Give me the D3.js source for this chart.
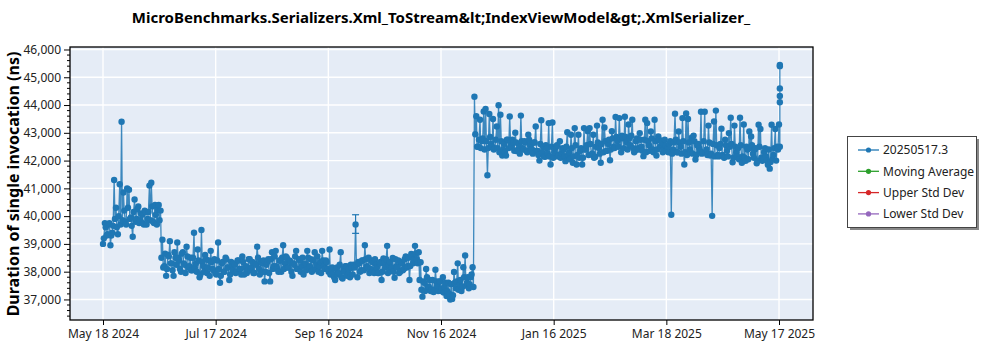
<!DOCTYPE html>
<html><head><meta charset="utf-8">
<script src="https://cdn.jsdelivr.net/npm/d3@7"></script>
<style>
html,body{margin:0;padding:0;background:#fff;}
svg{display:block;font-family:"Segoe UI","Noto Sans","Open Sans",sans-serif;}
</style></head>
<body>
<svg id="chart" width="1000" height="350"></svg>
<script>
// ---------- DATA ----------
const chartTitle = "MicroBenchmarks.Serializers.Xml_ToStream&lt;IndexViewModel&gt;.XmlSerializer_";
const yAxisTitle = "Duration of single invocation (ns)";
const startDate = "2024-05-18";           // first day; two runs per day afterwards
// first run of each day (ns)
const values = [
  39000,39750,39300,39700,38950,39400,41300,40300,39350,41150,
  43400,40850,39800,41000,40950,39950,39260,40600,39900,40350,
  39850,40050,39700,40150,39900,41100,41200,39800,40400,39700,
  40400,40200,39150,38200,37850,38600,39100,38300,37850,38500,
  39050,38400,38000,38700,38250,38900,38150,38500,38050,39400,
  38300,38800,37800,39500,38200,38600,37950,38400,38750,38100,
  38450,37900,39050,37600,38300,38000,38500,38150,37700,38350,
  38050,38250,38000,38400,38100,38550,37900,38200,38050,38450,
  38150,37950,38300,38900,38100,38350,38000,37650,38250,38450,
  37650,38700,38200,38750,38100,38400,38000,38950,38300,38500,
  38150,38350,37850,38250,38750,38100,38400,38200,37900,38300,
  38750,38150,38450,38050,38700,38250,38000,38350,38750,38200,
  38400,38100,38800,38050,37900,37700,38150,37950,38700,37750,
  38000,38200,37900,37800,38150,38250,39700,37800,38300,38050,
  38400,38950,38200,38500,38100,38350,37950,38250,37950,38300,
  37700,38480,38150,38930,38250,38050,38490,37780,38200,38400,
  38000,38300,38100,38550,38200,37700,38640,38300,38930,38450,
  38700,38340,37100,37600,38100,37450,37700,37350,37270,38070,
  37500,37650,37300,37800,37450,37120,37600,37000,37020,37990,
  37400,38300,37550,37300,38160,38580,37600,37400,37800,38160,
  44300,43600,42500,43470,42700,43770,43860,41470,43680,42600,
  43500,42450,43230,43990,43650,42180,42600,42180,42750,43590,
  42500,42650,43000,42340,42600,43620,42450,42700,42350,42930,
  42550,42400,42650,43230,42350,42000,43450,42500,42140,42450,
  43350,41860,43370,42300,42500,42150,42700,42250,42400,41980,
  43020,42300,42930,41920,43170,41860,42930,42350,41860,43170,
  42400,43060,43170,42220,42930,42140,43260,42450,41920,43470,
  43190,42350,42600,42010,43060,42500,43570,42700,43530,42300,
  42800,43580,42650,43300,42550,43470,42300,42700,42450,42990,
  42500,42160,43470,43350,42550,43050,42400,43470,42180,42870,
  42500,42650,42400,42550,42450,42600,40050,42400,43690,42300,
  43050,42500,43530,41860,43700,43500,42400,42820,42900,42040,
  42550,42450,43760,42280,43760,42400,43260,42180,40010,43410,
  43800,42200,42450,43150,42160,42750,42350,42990,43540,41940,
  43260,42300,42450,43540,41920,43300,41990,42400,43050,42870,
  42250,42400,41900,43290,43140,41990,42300,42150,41850,41710,
  43290,42200,43140,42500,43300
];
// second run of each day (ns)
const secondRuns = [
  39200,39600,39350,39750,39300,39650,39900,39600,40000,39700,
  39850,40200,39700,40300,39900,39650,40150,39800,40250,39750,
  40100,39750,40200,39700,40150,39850,40350,39750,40050,40250,
  39850,38500,38150,38650,38100,38550,38300,38050,38700,38250,
  38500,38100,38650,38300,37950,38550,38200,38050,38500,38150,
  38000,38400,37900,38350,38000,38450,38150,37850,38350,38050,
  37950,38400,38100,37850,38350,38000,38450,38150,37900,38250,
  38300,37950,38400,38100,37900,38350,38150,37950,38450,38050,
  38350,37950,38250,38500,37900,38300,38400,38000,38350,37950,
  38450,38100,38550,38200,38000,38400,38500,38100,38550,38150,
  38400,38000,38300,38550,38100,38450,38000,38500,38250,38050,
  38500,38200,38000,38400,38100,38550,38200,37950,38400,38100,
  38350,38000,37900,38150,37800,38100,37900,38250,37800,38100,
  38200,37850,38100,38250,37900,38150,38250,38350,38000,38400,
  38050,38450,38150,37950,38400,38050,38450,38150,37950,38350,
  38000,38300,38450,37950,38350,38150,38000,38450,38150,37950,
  38350,38050,38450,38150,38500,38200,38550,38450,38650,38300,
  37700,37350,37650,37300,37800,37450,37300,37700,37350,37650,
  37300,37650,37400,37250,37600,37300,37200,37550,37150,37600,
  37650,37350,37700,37450,37800,37500,37800,37550,37900,37450,
  42950,42500,42750,42450,42800,42400,42700,42450,42850,42500,
  42400,42750,42450,42300,42700,42400,42300,42750,42450,42650,
  42750,42350,42650,42400,42250,42700,42400,42650,42300,42750,
  42400,42250,42650,42350,42200,42600,42300,42150,42550,42250,
  42150,42500,42100,42450,42550,42200,42100,42450,42150,42500,
  42200,42050,42450,42150,42550,42200,42100,42450,42100,42400,
  42550,42200,42600,42250,42100,42500,42650,42250,42600,42300,
  42700,42350,42750,42400,42800,42450,42850,42500,42800,42900,
  42450,42850,42400,42800,42900,42450,42350,42800,42400,42750,
  42350,42750,42300,42700,42350,42800,42300,42700,42400,42750,
  42700,42300,42750,42350,42300,42700,42250,42650,42750,42300,
  42650,42250,42700,42300,42200,42650,42300,42250,42700,42200,
  42600,42350,42250,42700,42300,42200,42650,42250,42600,42150,
  42550,42150,42600,42200,42100,42550,42150,42500,42600,42100,
  42500,42150,42050,42550,42150,42100,42500,42050,42450,42550,
  42100,42450,42000,42500,42100,42050,42450,42000,42400,41950,
  42050,42450,42000,42400,42500
];
const lastDayExtraRuns = [44100,44330,44600,45400,45440];   // repeated runs on the final day
const errorBars = [ {day:136, low:39380, high:40050} ];
const yTicks = [37000,38000,39000,40000,41000,42000,43000,44000,45000,46000];
const xTickLabels = ["May 18 2024","Jul 17 2024","Sep 16 2024","Nov 16 2024","Jan 16 2025","Mar 18 2025","May 17 2025"];
const legendLabels = ["20250517.3","Moving Average","Upper Std Dev","Lower Std Dev"];
const legendColors = ["#1f77b4","#2ca02c","#d62728","#9467bd"];

// ---------- BUILD ----------
const DAY = 86400000;
const t0 = Date.parse(startDate + "T00:00:00Z");
const points = [];
values.forEach((v,i)=>{
  points.push({t:new Date(t0+i*DAY), v});
  points.push({t:new Date(t0+i*DAY+0.45*DAY), v:secondRuns[i]});
});
const lastT = new Date(t0+(values.length-1)*DAY+0.45*DAY);
lastDayExtraRuns.forEach(v=>points.push({t:lastT, v}));

const svg = d3.select("#chart");
const L=70, R=813, T=47, B=320;
const firstTick = t0, lastTick = t0 + 364*DAY;
const x = d3.scaleUtc()
  .domain([new Date(firstTick - 17.77*DAY), new Date(lastTick + 18.3*DAY)])
  .range([L,R]);
const y = d3.scaleLinear().domain([36260,46090]).range([B,T]);

const blue = "#1f77b4";
svg.append("rect").attr("x",L).attr("y",T).attr("width",R-L).attr("height",B-T).attr("fill","#e5ecf6");

const xTickVals = xTickLabels.map((s,i)=>new Date(firstTick + i*(lastTick-firstTick)/(xTickLabels.length-1)));

// grid
const grid = svg.append("g");
grid.selectAll("line.h").data(yTicks).join("line")
  .attr("x1",L).attr("x2",R).attr("y1",d=>y(d)).attr("y2",d=>y(d))
  .attr("stroke","#fff").attr("stroke-width",1.4);
grid.selectAll("line.v").data(xTickVals).join("line")
  .attr("y1",T).attr("y2",B).attr("x1",d=>x(d)).attr("x2",d=>x(d))
  .attr("stroke","#fff").attr("stroke-width",1.4);

// series line
const line = d3.line().x(d=>x(d.t)).y(d=>y(d.v));
svg.append("path").datum(points).attr("d",line)
  .attr("fill","none").attr("stroke",blue).attr("stroke-width",1.3).attr("stroke-opacity",0.85);

// error bars
const eb = svg.append("g").attr("stroke",blue).attr("stroke-width",1.2);
errorBars.forEach(e=>{
  const xx = x(new Date(t0+e.day*DAY));
  eb.append("line").attr("x1",xx).attr("x2",xx).attr("y1",y(e.low)).attr("y2",y(e.high));
  [e.low,e.high].forEach(v=>eb.append("line").attr("x1",xx-3.5).attr("x2",xx+3.5).attr("y1",y(v)).attr("y2",y(v)));
});

// markers
svg.append("g").selectAll("circle").data(points).join("circle")
  .attr("cx",d=>x(d.t)).attr("cy",d=>y(d.v)).attr("r",3.2).attr("fill",blue);

// frame
svg.append("rect").attr("x",L).attr("y",T).attr("width",R-L).attr("height",B-T)
  .attr("fill","none").attr("stroke","#000").attr("stroke-width",1.3);

// y axis
const yAxis = svg.append("g").attr("transform",`translate(${L},0)`)
  .call(d3.axisLeft(y).tickValues(yTicks).tickFormat(d3.format(",")).tickSize(6).tickPadding(3));
const minor = d3.range(36400, 46001, 200).filter(v=>v%1000!==0);
svg.append("g").selectAll("line").data(minor).join("line")
  .attr("x1",L-3).attr("x2",L).attr("y1",d=>y(d)).attr("y2",d=>y(d)).attr("stroke","#000");

// x axis
const xAxis = svg.append("g").attr("transform",`translate(0,${B})`)
  .call(d3.axisBottom(x).tickValues(xTickVals).tickFormat((d,i)=>xTickLabels[i]).tickSize(5).tickPadding(4));

[yAxis,xAxis].forEach(a=>{
  a.select(".domain").remove();
  a.selectAll("text").attr("font-size",12).attr("fill","#222").attr("font-family","'Segoe UI','Noto Sans',sans-serif");
  a.selectAll(".tick line").attr("stroke","#000");
});

// titles
svg.append("text").attr("x",441).attr("y",23).attr("text-anchor","middle")
  .attr("font-size",15).attr("font-weight","bold").attr("fill","#000").text(chartTitle);
svg.append("text").attr("transform","translate(19,184) rotate(-90)").attr("text-anchor","middle")
  .attr("font-size",16).attr("font-weight","bold").attr("fill","#000").text(yAxisTitle);

// legend
const lg = svg.append("g");
lg.append("rect").attr("x",850).attr("y",139).attr("width",129).attr("height",91).attr("fill","#888");
lg.append("rect").attr("x",847.5).attr("y",136.5).attr("width",129).attr("height",91)
  .attr("fill","#fff").attr("stroke","#444").attr("stroke-width",1);
legendLabels.forEach((lab,i)=>{
  const yy = 150 + i*21.3;
  lg.append("line").attr("x1",858).attr("x2",879).attr("y1",yy).attr("y2",yy).attr("stroke",legendColors[i]).attr("stroke-width",1.3);
  lg.append("circle").attr("cx",868.5).attr("cy",yy).attr("r",2.6).attr("fill",legendColors[i]);
  lg.append("text").attr("x",883).attr("y",yy).attr("dy","0.35em").attr("font-size",12).attr("fill","#222").text(lab);
});
</script>
</body></html>
